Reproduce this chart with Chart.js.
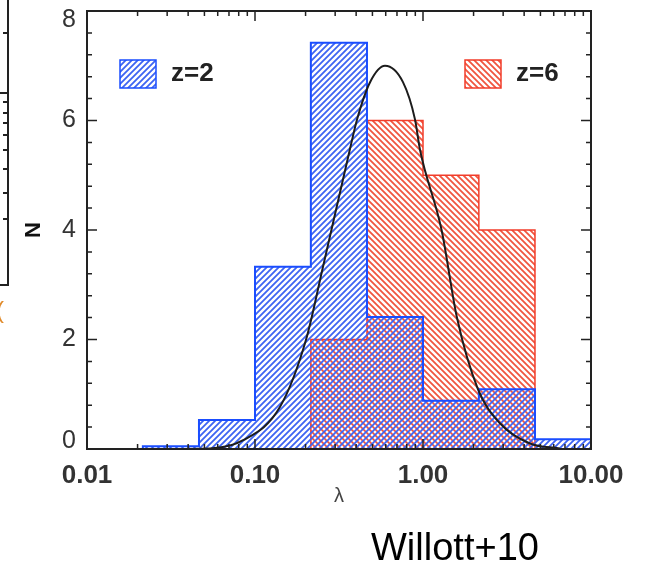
<!DOCTYPE html>
<html>
<head>
<meta charset="utf-8">
<script src="https://cdn.jsdelivr.net/npm/chart.js@4.4.1/dist/chart.umd.min.js"></script>
<style>
  html, body { margin: 0; padding: 0; background: #fff; }
  #wrap { width: 650px; height: 565px; }
</style>
</head>
<body>
<div id="wrap"><canvas id="lambdaChart" width="650" height="565"></canvas></div>
<script>
// bin edges in lambda (1/3 dex bins)
const binEdges = [0.0215, 0.0464, 0.1, 0.215, 0.464, 1.0, 2.15, 4.64, 10.0];
// histogram counts, null = empty bin
const countsZ2 = [0.05, 0.53, 3.33, 7.42, 2.41, 0.88, 1.09, 0.18];
const countsZ6 = [null, null, null, 2, 6, 5, 4, null];
// log-normal fit curve
const fitLambda = [0.03, 0.054, 0.085, 0.141, 0.201, 0.254, 0.367, 0.405, 0.484, 0.594,
                   0.760, 0.896, 0.959, 1.29, 1.59, 2.12, 2.87, 4.33, 6.5];
const fitN = [0.0, 0.01, 0.16, 0.77, 1.99, 3.33, 5.47, 6.02, 6.7, 7.0,
              6.7, 6.02, 5.47, 4.0, 2.41, 1.10, 0.47, 0.10, 0.01];
const xTicks = [0.01, 0.1, 1, 10];
const yTicks = [0, 2, 4, 6, 8];

const BLUE = '#1a4dff';
const BLUE_HATCH = '#3d64f2';
const RED = '#f23d2a';
const RED_HATCH = '#f0553f';
const INK = '#222';
const FONT = '"Liberation Sans", Arial, sans-serif';

// turn bins into a closed step outline (horizontal, then vertical)
function stepPoints(edges, counts) {
  const pts = [];
  let last = -1;
  counts.forEach((c, i) => {
    if (c == null) return;
    if (!pts.length) pts.push({ x: edges[i], y: 0 });
    pts.push({ x: edges[i], y: c });
    last = i;
  });
  pts.push({ x: edges[last + 1], y: 0 });
  return pts;
}

const canvas = document.getElementById('lambdaChart');
const ctx = canvas.getContext('2d');

// diagonal hatch tile; dir 1 = "/", -1 = "\"
function hatch(color, dir) {
  const s = 6;
  const c = document.createElement('canvas');
  c.width = c.height = s;
  const g = c.getContext('2d');
  g.strokeStyle = color;
  g.lineWidth = 1.8;
  g.beginPath();
  if (dir > 0) {
    g.moveTo(0, s); g.lineTo(s, 0);
    g.moveTo(-1, 1); g.lineTo(1, -1);
    g.moveTo(s - 1, s + 1); g.lineTo(s + 1, s - 1);
  } else {
    g.moveTo(0, 0); g.lineTo(s, s);
    g.moveTo(-1, s - 1); g.lineTo(1, s + 1);
    g.moveTo(s - 1, -1); g.lineTo(s + 1, 1);
  }
  g.stroke();
  return ctx.createPattern(c, 'repeat');
}

const blueFill = hatch(BLUE_HATCH, 1);
const redFill = hatch(RED_HATCH, -1);

// box, inward ticks, y labels, legend, labels
const frame = {
  id: 'frame',
  afterDraw(chart) {
    const { ctx, chartArea: a, scales: { x, y } } = chart;
    ctx.save();
    ctx.strokeStyle = INK;
    ctx.lineWidth = 1.5;
    ctx.beginPath();
    for (let d = 0.01; d < 10; d *= 10) {
      for (let m = 1; m <= 10; m++) {
        const px = x.getPixelForValue(d * m);
        const len = (m === 1 || m === 10) ? 10 : 5;
        ctx.moveTo(px, a.bottom); ctx.lineTo(px, a.bottom - len);
        ctx.moveTo(px, a.top); ctx.lineTo(px, a.top + len);
      }
    }
    for (let i = 0; i <= 20; i++) {
      const py = y.getPixelForValue(i * 0.4);
      const len = i % 5 === 0 ? 10 : 5;
      ctx.moveTo(a.left, py); ctx.lineTo(a.left + len, py);
      ctx.moveTo(a.right, py); ctx.lineTo(a.right - len, py);
    }
    ctx.stroke();
    ctx.lineWidth = 2;
    ctx.strokeRect(a.left, a.top, a.right - a.left, a.bottom - a.top);

    // y tick labels, kept inside the box height
    ctx.fillStyle = '#333';
    ctx.font = '25px ' + FONT;
    ctx.textAlign = 'right';
    ctx.textBaseline = 'middle';
    yTicks.forEach(v => {
      const py = Math.min(Math.max(y.getPixelForValue(v), a.top + 9), a.bottom - 8);
      ctx.fillText(String(v), a.left - 11, py);
    });

    // legend
    ctx.lineWidth = 1.5;
    ctx.fillStyle = blueFill;
    ctx.fillRect(120, 60, 36, 28);
    ctx.strokeStyle = BLUE;
    ctx.strokeRect(120, 60, 36, 28);
    ctx.fillStyle = redFill;
    ctx.fillRect(465, 60, 36, 28);
    ctx.strokeStyle = RED;
    ctx.strokeRect(465, 60, 36, 28);
    ctx.fillStyle = INK;
    ctx.font = 'bold 26px ' + FONT;
    ctx.textAlign = 'left';
    ctx.fillText('z=2', 171, 74);
    ctx.fillText('z=6', 516, 74);

    ctx.fillStyle = '#000';
    ctx.font = '38px ' + FONT;
    ctx.textBaseline = 'alphabetic';
    ctx.fillText('Willott+10', 371, 560);

    // edge of the neighbouring panel
    ctx.strokeStyle = INK;
    ctx.lineWidth = 2;
    ctx.beginPath();
    ctx.moveTo(8, 0); ctx.lineTo(8, 285); ctx.lineTo(0, 285);
    ctx.moveTo(0, 93); ctx.lineTo(8, 93);
    [33, 102, 113, 123, 135, 150, 169, 193, 219].forEach(t => {
      ctx.moveTo(8, t); ctx.lineTo(3, t);
    });
    ctx.stroke();
    ctx.fillStyle = '#e08a2a';
    ctx.font = '24px ' + FONT;
    ctx.fillText('(', -4, 318);
    ctx.restore();
  }
};

new Chart(canvas, {
  type: 'line',
  data: {
    datasets: [
      {
        label: 'fit',
        data: fitLambda.map((v, i) => ({ x: v, y: fitN[i] })),
        borderColor: '#1c1c1c',
        borderWidth: 2,
        pointRadius: 0,
        cubicInterpolationMode: 'monotone',
        fill: false
      },
      {
        label: 'z=2',
        data: stepPoints(binEdges, countsZ2),
        borderColor: BLUE,
        borderWidth: 2,
        backgroundColor: blueFill,
        pointRadius: 0,
        stepped: 'before',
        fill: 'origin'
      },
      {
        label: 'z=6',
        data: stepPoints(binEdges, countsZ6),
        borderColor: RED,
        borderWidth: 1.5,
        backgroundColor: redFill,
        pointRadius: 0,
        stepped: 'before',
        fill: 'origin'
      }
    ]
  },
  options: {
    responsive: false,
    animation: false,
    layout: { padding: { left: 0, right: 59, top: 11, bottom: 0 } },
    plugins: { legend: { display: false }, tooltip: { enabled: false } },
    scales: {
      x: {
        type: 'logarithmic',
        min: 0.01,
        max: 10,
        grid: { display: false, drawTicks: false },
        border: { display: false },
        afterBuildTicks: s => { s.ticks = xTicks.map(v => ({ value: v })); },
        afterFit: s => { s.height = 116; s.paddingLeft = 0; s.paddingRight = 0; },
        ticks: {
          padding: 14,
          maxRotation: 0,
          color: '#333',
          font: { family: FONT, size: 26, weight: 'bold', lineHeight: 1 },
          callback: v => Number(v).toFixed(2)
        },
        title: {
          display: true,
          text: 'λ',
          color: '#444',
          font: { family: FONT, size: 20 },
          padding: { bottom: 57 }
        }
      },
      y: {
        min: 0,
        max: 8,
        grid: { display: false, drawTicks: false },
        border: { display: false },
        afterBuildTicks: s => { s.ticks = yTicks.map(v => ({ value: v })); },
        afterFit: s => { s.width = 87; s.paddingTop = 0; s.paddingBottom = 0; },
        ticks: { display: false },
        title: {
          display: true,
          text: 'N',
          color: '#111',
          font: { family: FONT, size: 22, weight: 'bold', lineHeight: 1 },
          padding: { top: 23 }
        }
      }
    }
  },
  plugins: [frame]
});
</script>
</body>
</html>
